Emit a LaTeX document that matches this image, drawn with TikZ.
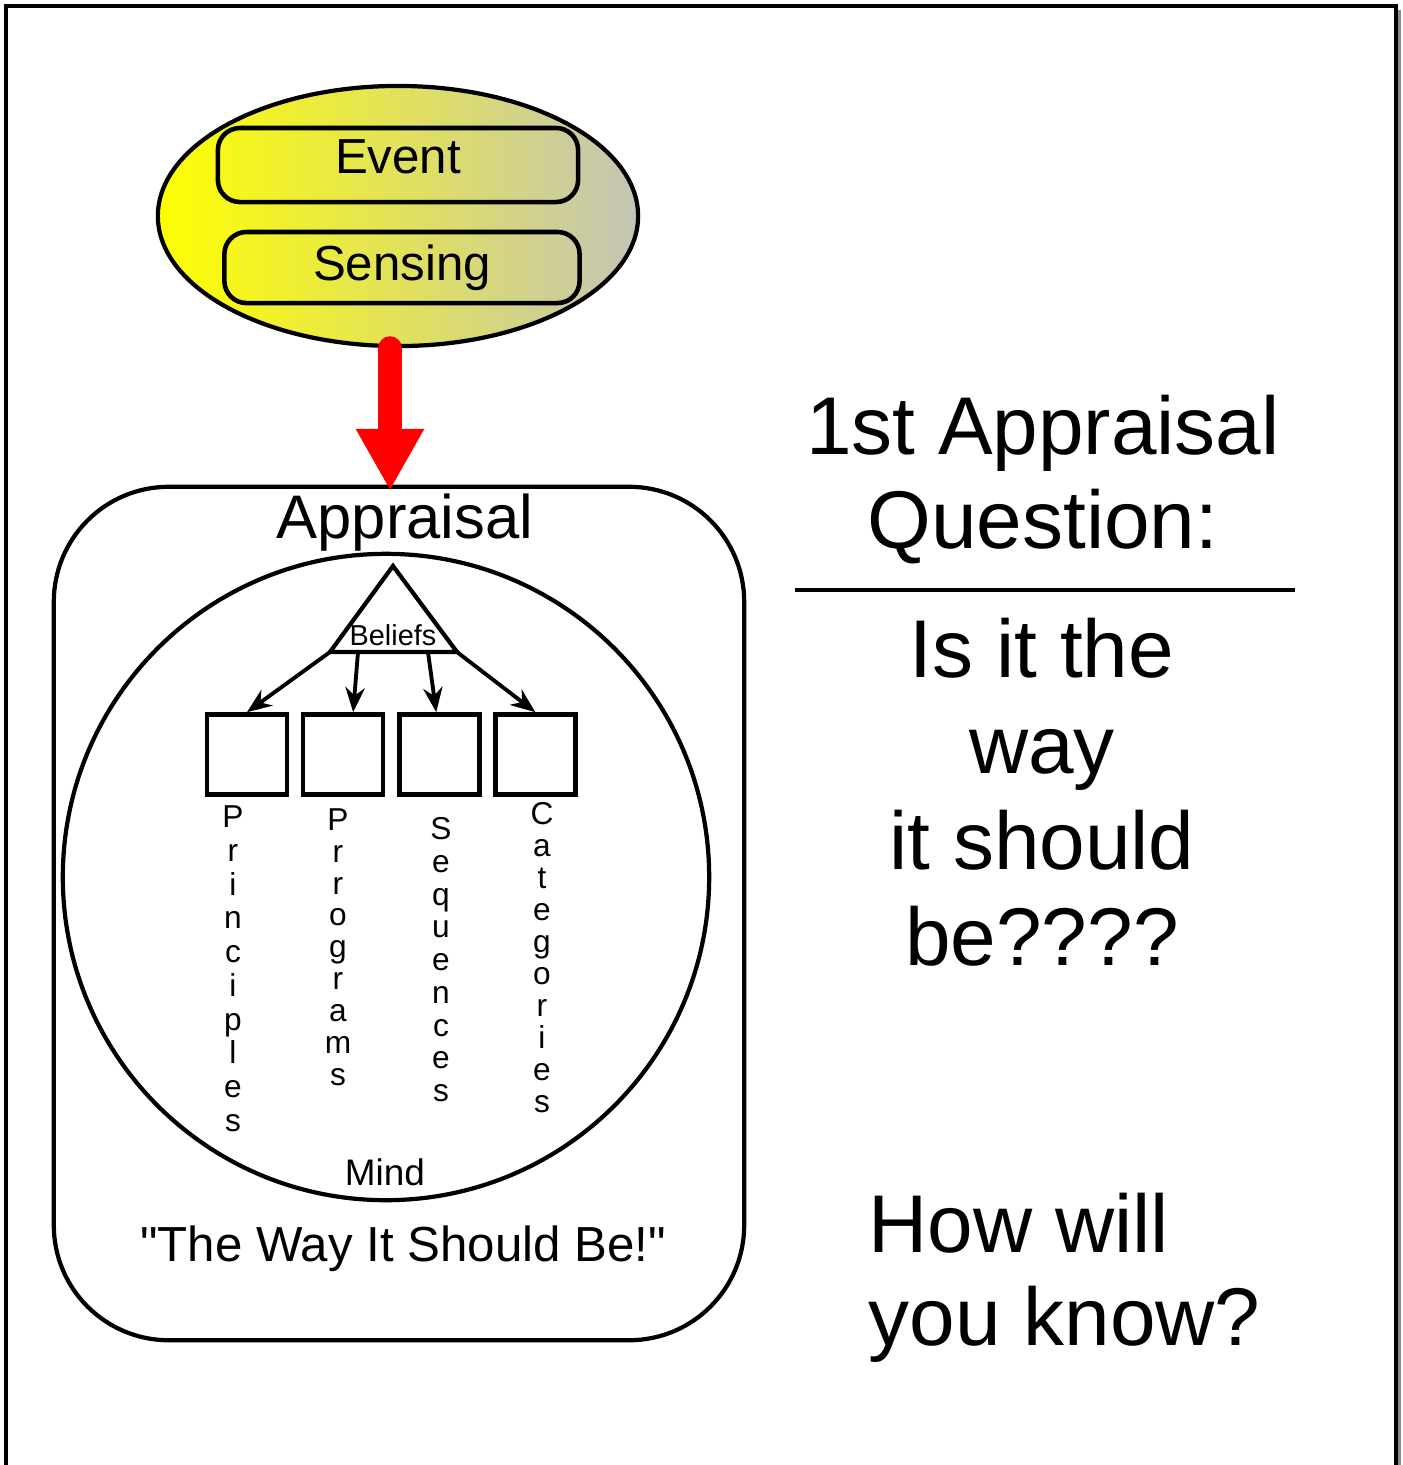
\documentclass[tikz,border=0pt]{standalone}
\usepackage{fontspec}
\setmainfont{Liberation Sans}
\usetikzlibrary{positioning, arrows.meta, shapes.geometric}
\definecolor{mistgray}{HTML}{C4C4B6}
\definecolor{framegray}{HTML}{8C8C8C}
\definecolor{alarmred}{HTML}{FF0000}
\newcommand{\fsz}[2]{\fontsize{#1}{#2}\selectfont}

\begin{document}
\begin{tikzpicture}[
    x=0.01cm, y=-0.01cm,
    outline/.style={draw, line width=1.2pt},
    pill/.style={draw, line width=1.3pt, rounded corners=0.22cm,
                 inner sep=0pt, font=\fsz{14}{16}},
    sqbox/.style={draw, line width=1.3pt, minimum size=0.8cm, inner sep=0pt},
    vlabel/.style={anchor=north, align=center, inner sep=0pt, font=\fsz{9}{#1}},
    bigtext/.style={anchor=base, inner sep=0pt},
    arrow/.style={-{Stealth[length=7pt, width=5.5pt]}, line width=1.1pt},
  ]
  \useasboundingbox (0,0) rectangle (1403,1465);

  % page frame
  \draw[line width=0.9pt] (6,1465) -- (6,6) -- (1396,6) -- (1396,1465);
  \draw[framegray, line width=1pt] (1399.5,10) -- (1399.5,1465);

  % event / sensing blob
  \node[ellipse, outline, left color=yellow, right color=mistgray,
        minimum width=4.8cm, minimum height=2.6cm, inner sep=0pt] (blob) at (398,216) {};
  \node[pill, minimum width=3.6cm, minimum height=0.74cm,
        text height=0.32cm, text depth=0.16cm] (event) at (398,165) {Event};
  \node[pill, minimum width=3.55cm, minimum height=0.71cm,
        text height=0.36cm, text depth=0.11cm] (sensing) at (402,267.5) {Sensing};

  % appraisal box and mind
  \node[outline, rounded corners=1.15cm, minimum width=6.9cm, minimum height=8.53cm,
        inner sep=0pt] (mindbox) at (399,913.5) {};
  \node[bigtext, font=\fsz{17.5}{20}] (apptitle) at (405,538) {Appraisal};
  \node[circle, outline, minimum size=6.46cm, inner sep=0pt] (mind) at (386,877) {};
  \node[bigtext, font=\fsz{10.5}{12}] (mindtxt) at (385,1185) {Mind};
  \node[bigtext, font=\fsz{14}{16}] (shouldbe) at (403,1261)
    {\textquotedbl The Way It Should Be!\textquotedbl};

  % beliefs triangle
  \coordinate (btop) at (393,566);
  \coordinate (bleft) at (330,652);
  \coordinate (bright) at (457,652);
  \coordinate (bmidl) at (358,652);
  \coordinate (bmidr) at (428,652);
  \draw[line width=1.2pt, line join=miter] (btop) -- (bright) -- (bleft) -- cycle;
  \node[bigtext, font=\fsz{8.2}{9}] (beliefs) at (393,645) {Beliefs};

  \node[sqbox] (princ) at (247,754.5) {};
  \node[sqbox, right=0.115cm of princ] (progr) {};
  \node[sqbox, right=0.115cm of progr] (seqs) {};
  \node[sqbox, right=0.115cm of seqs] (categ) {};

  \draw[arrow] (bleft) -- (princ.north);
  \draw[arrow] (bmidl) -- ([xshift=0.1cm]progr.north);
  \draw[arrow] (bmidr) -- ([xshift=-0.03cm]seqs.north);
  \draw[arrow] (bright) -- (categ.north);

  \node[vlabel=9.6] (princtxt) at (233,805) {P\\r\\i\\n\\c\\i\\p\\l\\e\\s};
  \node[vlabel=9.05] (progrtxt) at (338,808) {P\\r\\r\\o\\g\\r\\a\\m\\s};
  \node[vlabel=9.3] (seqstxt) at (441,817) {S\\e\\q\\u\\e\\n\\c\\e\\s};
  \node[vlabel=9.1] (categtxt) at (542,802) {C\\a\\t\\e\\g\\o\\r\\i\\e\\s};

  % right hand side (base = last line)
  \node[bigtext, align=center, font=\fsz{23.3}{26.5}] (question) at (1043,548) {1st Appraisal\\Question:};
  \coordinate (ruleleft) at (795,590);
  \coordinate (ruleright) at (1295,590);
  \draw[line width=1.2pt] (ruleleft) -- (ruleright);
  \node[bigtext, align=center, font=\fsz{23.3}{27.3}] (isit) at (1042,965) {Is it the\\way\\it should\\be????};
  \node[bigtext, anchor=base west, align=left, font=\fsz{23.3}{26.2}] (howknow) at (868,1345) {How will\\you know?};

  % sensing feeds appraisal
  \draw[alarmred, line width=6.8pt, line cap=round, -{Triangle[length=17.6pt, width=18.2pt]}]
    ([xshift=-0.08cm]blob.south) -- ([xshift=-0.09cm, yshift=-0.06cm]mindbox.north);
\end{tikzpicture}
\end{document}
